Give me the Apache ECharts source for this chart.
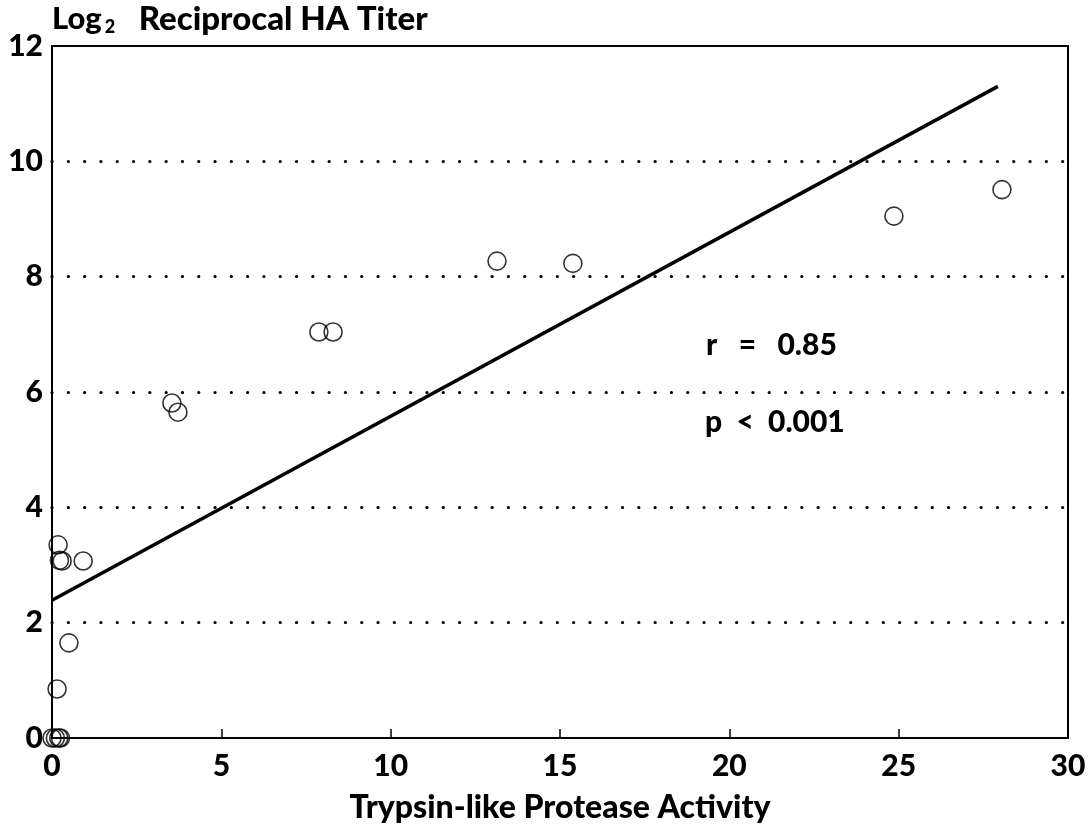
<!DOCTYPE html>
<html>
<head>
<meta charset="utf-8">
<script src="https://cdn.jsdelivr.net/npm/echarts@6/dist/echarts.min.js"></script>
<style>
  html, body { margin: 0; padding: 0; background: #fff; }
  #chart { width: 1090px; height: 829px; }
</style>
</head>
<body>
<div id="chart"></div>
<script>
// protease activity vs log2 HA titer
var activity = [0, 0.1, 0.2, 0.25, 0.15, 0.5, 0.18, 0.22, 0.3, 0.92, 3.54, 3.72, 7.88, 8.3, 13.14, 15.38, 24.86, 28.05];
var titer    = [0, 0, 0, 0, 0.85, 1.65, 3.35, 3.08, 3.07, 3.07, 5.81, 5.65, 7.04, 7.04, 8.27, 8.23, 9.05, 9.51];

// regression line ends
var fitX = [0, 27.93];
var fitY = [2.39, 11.3];

var xTicks = [0, 5, 10, 15, 20, 25, 30];
var yTicks = [0, 2, 4, 6, 8, 10, 12];

var FONT = 'Lato';

var points = activity.map(function (v, i) { return [v, titer[i]]; });
var fitLine = fitX.map(function (v, i) { return [v, fitY[i]]; });

var myChart = echarts.init(document.getElementById('chart'));
option = {
    backgroundColor: '#fff',
    animation: false,
    grid: {
        left: 52,
        right: 22,
        top: 46,
        bottom: 91,
        show: true,
        borderColor: '#000',
        borderWidth: 2
    },
    xAxis: {
        type: 'value',
        min: xTicks[0],
        max: xTicks[xTicks.length - 1],
        interval: 5,
        name: 'Trypsin-like Protease Activity',
        nameLocation: 'middle',
        nameGap: 54,
        nameTextStyle: { color: '#000', fontFamily: FONT, fontWeight: 900, fontSize: 32 },
        axisLine: { show: true, lineStyle: { color: '#000', width: 2 } },
        axisTick: { inside: true, length: 9, lineStyle: { color: '#000', width: 1.5 } },
        axisLabel: { color: '#000', fontFamily: FONT, fontWeight: 900, fontSize: 30, margin: 13 },
        splitLine: { show: false }
    },
    yAxis: {
        type: 'value',
        min: yTicks[0],
        max: yTicks[yTicks.length - 1],
        interval: 2,
        name: '{a|Log}{s|2}{b|   Reciprocal HA Titer}',
        nameLocation: 'end',
        nameGap: 10,
        nameTextStyle: {
            align: 'left',
            verticalAlign: 'bottom',
            rich: {
                a: { color: '#000', fontFamily: FONT, fontWeight: 900, fontSize: 31 },
                s: { color: '#000', fontFamily: FONT, fontWeight: 900, fontSize: 18, padding: [16, 0, 0, 3] },
                b: { color: '#000', fontFamily: FONT, fontWeight: 900, fontSize: 33 }
            }
        },
        axisLine: { show: true, lineStyle: { color: '#000', width: 2 } },
        axisTick: { show: false },
        axisLabel: { color: '#000', fontFamily: FONT, fontWeight: 900, fontSize: 30, margin: 9 },
        splitLine: {
            show: true,
            showMinLine: false,
            showMaxLine: false,
            lineStyle: { color: '#000', width: 3.2, type: [0.1, 16.2], cap: 'round' }
        }
    },
    series: [
        {
            type: 'scatter',
            data: points,
            symbol: 'circle',
            symbolSize: 18,
            itemStyle: { color: 'rgba(255,255,255,0)', borderColor: '#000', borderWidth: 1.6 },
            z: 3
        },
        {
            type: 'line',
            data: fitLine,
            symbol: 'none',
            lineStyle: { color: '#000', width: 3.5 },
            z: 2
        }
    ],
    graphic: [
        {
            type: 'text',
            left: 706,
            top: 330,
            style: { text: 'r   =   0.85', fill: '#000', font: '900 30px ' + FONT }
        },
        {
            type: 'text',
            left: 705,
            top: 407,
            style: { text: 'p  <  0.001', fill: '#000', font: '900 30px ' + FONT }
        }
    ]
};
myChart.setOption(option);
</script>
</body>
</html>
